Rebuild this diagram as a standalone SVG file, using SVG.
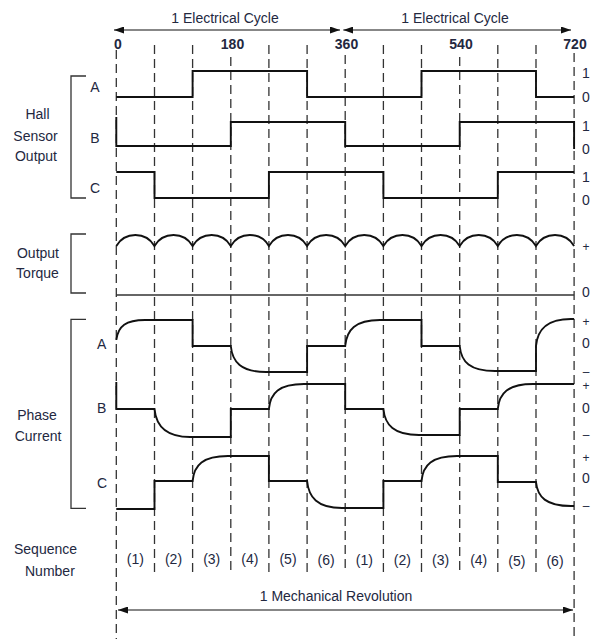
<svg xmlns="http://www.w3.org/2000/svg" width="595" height="639" viewBox="0 0 595 639">
<style>
  text { font-family: "Liberation Sans", Arial, sans-serif; font-size: 14px; fill: #23283f; }
  .mid { text-anchor: middle; }
  .num { font-weight: bold; text-anchor: middle; }
  .pm { font-size: 12px; text-anchor: middle; }
  .grid { stroke: #333; stroke-width: 1.3; stroke-dasharray: 9 5; fill: none; }
  .sig { stroke: #111; stroke-width: 1.9; fill: none; stroke-linejoin: miter; }
  .thin { stroke: #333; stroke-width: 1.3; fill: none; }
  .brk { stroke: #333; stroke-width: 1.3; fill: none; }
  .arr { stroke: #111; stroke-width: 1.2; fill: none; }
</style>
<defs>
  <marker id="ah" viewBox="0 0 10 7" refX="10" refY="3.5" markerWidth="10" markerHeight="7" markerUnits="userSpaceOnUse" orient="auto-start-reverse">
    <path d="M0,0 L10,3.5 L0,7 z" fill="#111"/>
  </marker>
</defs>

<g id="grid">
  <line class="grid" x1="116.3" y1="50" x2="116.3" y2="639"/>
  <line class="grid" x1="154.5" y1="45" x2="154.5" y2="573"/>
  <line class="grid" x1="192.6" y1="45" x2="192.6" y2="573"/>
  <line class="grid" x1="230.8" y1="57" x2="230.8" y2="573"/>
  <line class="grid" x1="268.9" y1="45" x2="268.9" y2="573"/>
  <line class="grid" x1="307.1" y1="45" x2="307.1" y2="573"/>
  <line class="grid" x1="345.2" y1="55" x2="345.2" y2="573"/>
  <line class="grid" x1="383.4" y1="45" x2="383.4" y2="573"/>
  <line class="grid" x1="421.5" y1="45" x2="421.5" y2="573"/>
  <line class="grid" x1="459.7" y1="57" x2="459.7" y2="573"/>
  <line class="grid" x1="497.8" y1="45" x2="497.8" y2="573"/>
  <line class="grid" x1="536.0" y1="45" x2="536.0" y2="573"/>
  <line class="grid" x1="574.1" y1="53" x2="574.1" y2="639"/>
</g>

<g id="connectors">
  <line class="arr" x1="114" y1="30" x2="340" y2="30" marker-start="url(#ah)" marker-end="url(#ah)"/>
  <line class="arr" x1="343.3" y1="30" x2="571" y2="30" marker-start="url(#ah)" marker-end="url(#ah)"/>
  <line class="arr" x1="118" y1="610" x2="573" y2="610" marker-start="url(#ah)" marker-end="url(#ah)"/>
</g>

<g id="axis-labels">
  <text class="mid" x="225" y="22.5">1 Electrical Cycle</text>
  <text class="mid" x="455" y="22.5">1 Electrical Cycle</text>
  <text class="num" x="118" y="49">0</text>
  <text class="num" x="232.5" y="49">180</text>
  <text class="num" x="346.5" y="49">360</text>
  <text class="num" x="461" y="49">540</text>
  <text class="num" x="575" y="49">720</text>
  <text class="mid" x="336" y="601">1 Mechanical Revolution</text>
</g>

<g id="hall-sensor">
  <path class="brk" d="M86,76 H71 V198 H86"/>
  <text class="mid" x="37.5" y="119">Hall</text>
  <text class="mid" x="35.5" y="140.5">Sensor</text>
  <text class="mid" x="36" y="161">Output</text>
  <text class="mid" x="95" y="92.3">A</text>
  <text class="mid" x="95" y="142.7">B</text>
  <text class="mid" x="95" y="192.7">C</text>
  <path class="sig" d="M116.3,97 H192.6 V71 H307.1 V97 H421.5 V71 H536 V97 H574.1"/>
  <path class="sig" d="M116.3,117 V146 H230.8 V122 H345.2 V146 H459.7 V122 H574.1 V149"/>
  <path class="sig" d="M116.3,172 H154.5 V198 H268.9 V172 H383.4 V198 H497.8 V172 H574.1"/>
  <text class="mid" x="586" y="78">1</text>
  <text class="mid" x="586" y="101.5">0</text>
  <text class="mid" x="586" y="130.5">1</text>
  <text class="mid" x="586" y="154">0</text>
  <text class="mid" x="586" y="181.5">1</text>
  <text class="mid" x="586" y="205">0</text>
</g>

<g id="output-torque">
  <path class="brk" d="M86,234 H71 V293 H86"/>
  <text class="mid" x="38" y="257.5">Output</text>
  <text class="mid" x="37.5" y="278">Torque</text>
  <path class="sig" d="M116.3,246 a22,22 0 0 1 38.15,0 a22,22 0 0 1 38.15,0 a22,22 0 0 1 38.15,0 a22,22 0 0 1 38.15,0 a22,22 0 0 1 38.15,0 a22,22 0 0 1 38.15,0 a22,22 0 0 1 38.15,0 a22,22 0 0 1 38.15,0 a22,22 0 0 1 38.15,0 a22,22 0 0 1 38.15,0 a22,22 0 0 1 38.15,0 a22,22 0 0 1 38.15,0"/>
  <line class="thin" x1="116.3" y1="295" x2="574.1" y2="295"/>
  <text class="pm" x="586" y="251">+</text>
  <text class="mid" x="586" y="296.5">0</text>
</g>

<g id="phase-current">
  <path class="brk" d="M86,319.3 H71 V508.3 H86"/>
  <text class="mid" x="37" y="420">Phase</text>
  <text class="mid" x="38" y="440.7">Current</text>
  <text class="mid" x="101.7" y="349">A</text>
  <text class="mid" x="101.7" y="413">B</text>
  <text class="mid" x="102" y="488">C</text>
  <path class="sig" d="M116.3,340 C118,326 126,320 145,320 H192.6 V346 H230.8 C232.3,362 241,372 266,372 H307.1 V346 H345.2 C346.7,330 355,320 380,320 H421.5 V346 H459.7 C461.2,362 470,371 495,371 H536 V346 C537.5,330 546,319 571,319 H574.1"/>
  <path class="sig" d="M116.3,382 V409 H154.5 C156,425 165,437 190,437 H230.8 V409 H268.9 C270.4,393 279,384 304,384 H345.2 V409 H383.4 C384.9,425 394,435 419,435 H459.7 V409 H497.8 C499.3,393 508,384 533,384 H574.1"/>
  <path class="sig" d="M116.3,509 H154.5 V481 H192.6 C194.1,465 203,456 228,456 H268.9 V481 H307.1 C308.6,497 317,508 342,508 H383.4 V481 H421.5 C423,465 432,456 457,456 H497.8 V482 H536 C537.5,497 546,506 571,506 H574.1"/>
  <text class="pm" x="586" y="326">+</text>
  <text class="mid" x="586" y="348">0</text>
  <text class="pm" x="586" y="376">–</text>
  <text class="pm" x="586" y="390">+</text>
  <text class="mid" x="586" y="412.5">0</text>
  <text class="pm" x="586" y="439">–</text>
  <text class="pm" x="586" y="461.5">+</text>
  <text class="mid" x="586" y="483">0</text>
  <text class="pm" x="586" y="510">–</text>
</g>

<g id="sequence">
  <text x="14" y="553.5">Sequence</text>
  <text x="25" y="576">Number</text>
  <text class="mid" x="135.4" y="564">(1)</text>
  <text class="mid" x="173.5" y="564">(2)</text>
  <text class="mid" x="211.7" y="564">(3)</text>
  <text class="mid" x="249.8" y="564">(4)</text>
  <text class="mid" x="288" y="564">(5)</text>
  <text class="mid" x="326.1" y="565">(6)</text>
  <text class="mid" x="364.3" y="565">(1)</text>
  <text class="mid" x="402.4" y="565">(2)</text>
  <text class="mid" x="440.6" y="565">(3)</text>
  <text class="mid" x="478.7" y="565">(4)</text>
  <text class="mid" x="516.9" y="565.5">(5)</text>
  <text class="mid" x="555" y="565.5">(6)</text>
</g>
</svg>
